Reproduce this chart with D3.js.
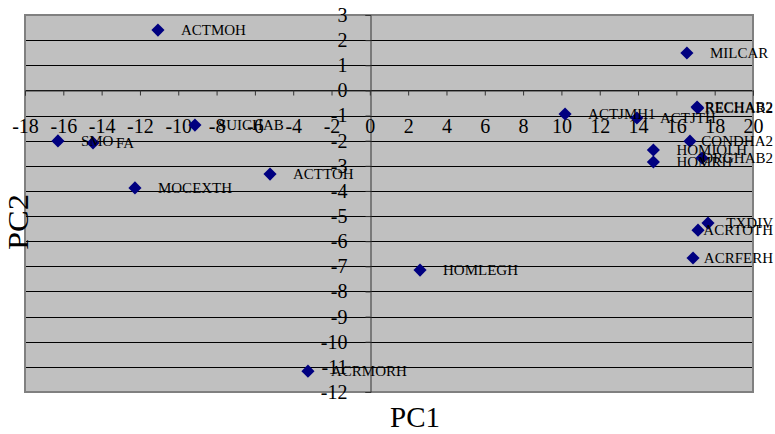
<!DOCTYPE html>
<html>
<head>
<meta charset="utf-8">
<script src="https://cdn.jsdelivr.net/npm/d3@7"></script>
<style>
  html, body { margin: 0; padding: 0; background: #fff; }
  svg { display: block; }
</style>
</head>
<body>
<svg id="chart" width="775" height="434"></svg>
<script>
// Variable scores on the first two principal components
const names = ["ACTMOH", "MILCAR", "RECHAB2", "RECHAR2", "ACTJMH1", "ACTJTH", "CONDHA2",
  "HOMIOLH", "HOMRH", "ORGHAB2", "TXDIV", "ACRTOTH", "ACRFERH", "HOMLEGH", "ACRMORH",
  "ACTTOH", "MOCEXTH", "SUICHAB", "SMO", "FA"];
const pc1 = [-11.06, 16.55, 17.08, 17.12, 10.19, 13.94, 16.71,
  14.8, 14.8, 17.34, 17.65, 17.13, 16.87, 2.62, -3.23,
  -5.21, -12.26, -9.13, -16.28, -14.45];
const pc2 = [2.40, 1.49, -0.66, -0.70, -0.94, -1.10, -2.02,
  -2.37, -2.85, -2.69, -5.28, -5.56, -6.67, -7.15, -11.17,
  -3.33, -3.88, -1.38, -2.01, -2.09];

const xTicks = d3.range(-18, 21, 2);
const yTicks = d3.range(3, -13, -1);

const W = 775, H = 434;
const plot = { left: 25, right: 753, top: 15, bottom: 392 };

const svg = d3.select("#chart");
const x = d3.scaleLinear().domain([-18, 20]).range([plot.left, plot.right]);
const y = d3.scaleLinear().domain([-12, 3]).range([plot.bottom, plot.top]);

const serif = "'Liberation Serif', 'Times New Roman', serif";
const plain = d => String(d);   // hyphen-minus, as in the printed labels

// plot background
svg.append("rect")
  .attr("x", plot.left).attr("y", plot.top)
  .attr("width", plot.right - plot.left).attr("height", plot.bottom - plot.top)
  .attr("fill", "#c0c0c0");

// horizontal gridlines
svg.append("g")
  .selectAll("line")
  .data(yTicks)
  .join("line")
  .attr("x1", plot.left).attr("x2", plot.right)
  .attr("y1", d => Math.round(y(d)) + 0.5).attr("y2", d => Math.round(y(d)) + 0.5)
  .attr("stroke", "#000").attr("stroke-width", 1);

// plot border
svg.append("rect")
  .attr("x", plot.left).attr("y", plot.top)
  .attr("width", plot.right - plot.left).attr("height", plot.bottom - plot.top)
  .attr("fill", "none").attr("stroke", "#808080").attr("stroke-width", 2);

// y axis through x = 0
const yAxis = d3.axisLeft(y).tickValues(yTicks).tickSize(5).tickPadding(18)
  .tickFormat(plain);
const gy = svg.append("g").attr("transform", `translate(${Math.round(x(0)) + 0.5},0)`).call(yAxis);
gy.select(".domain").attr("stroke", "#333");
gy.selectAll(".tick line").attr("stroke", "#333");
gy.selectAll(".tick text").attr("font-family", serif).attr("font-size", 20).attr("fill", "#000");

// x axis through y = 0
const xAxis = d3.axisBottom(x).tickValues(xTicks).tickSize(5).tickPadding(23)
  .tickFormat(plain);
const gx = svg.append("g").attr("transform", `translate(0,${Math.round(y(0)) + 0.5})`).call(xAxis);
gx.select(".domain").attr("stroke", "#333");
gx.selectAll(".tick line").attr("stroke", "#333");
gx.selectAll(".tick text").attr("font-family", serif).attr("font-size", 20).attr("fill", "#000");

// points
const pts = names.map((n, i) => ({ name: n, x: pc1[i], y: pc2[i] }));
const diamond = d3.symbol().type(d3.symbolDiamond2).size(110);

svg.append("g")
  .selectAll("path")
  .data(pts)
  .join("path")
  .attr("d", diamond)
  .attr("transform", d => `translate(${x(d.x)},${y(d.y)})`)
  .attr("fill", "#000080");

// labels, shifted left where they would run past the right edge
const labels = svg.append("g")
  .selectAll("text")
  .data(pts)
  .join("text")
  .attr("font-family", serif)
  .attr("font-size", 15)
  .attr("fill", "#000")
  .attr("y", d => y(d.y) + 5)
  .text(d => d.name);
labels.each(function(d) {
  const w = this.getComputedTextLength();
  const x0 = Math.min(x(d.x) + 23, W - 2 - w);
  d3.select(this).attr("x", x0);
});

// axis titles
svg.append("text")
  .attr("x", 415).attr("y", 427)
  .attr("text-anchor", "middle")
  .attr("font-family", serif).attr("font-size", 30)
  .attr("textLength", 50).attr("lengthAdjust", "spacingAndGlyphs")
  .text("PC1");

svg.append("text")
  .attr("transform", "translate(28,222) rotate(-90)")
  .attr("text-anchor", "middle")
  .attr("font-family", serif).attr("font-size", 30)
  .attr("textLength", 56).attr("lengthAdjust", "spacingAndGlyphs")
  .text("PC2");
</script>
</body>
</html>
